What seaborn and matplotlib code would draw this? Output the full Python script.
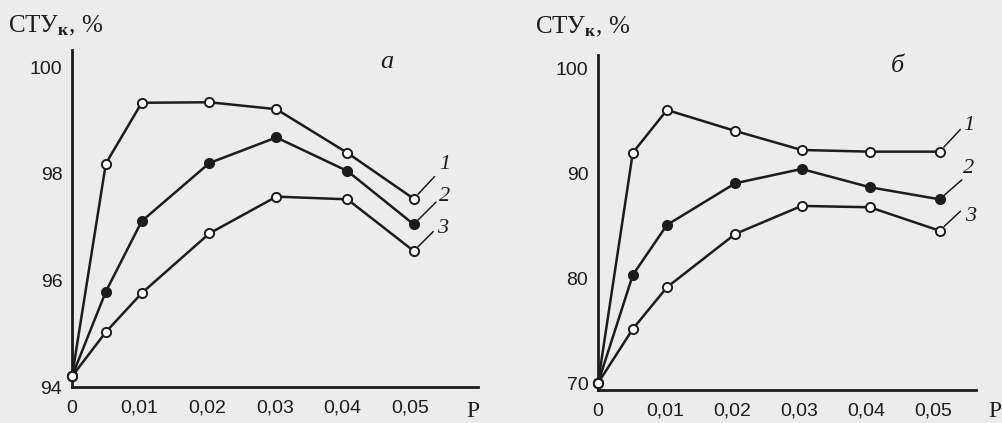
import numpy as np
import matplotlib
matplotlib.use("Agg")
import matplotlib.pyplot as plt
import pandas as pd
import seaborn as sns

# panel a
p_a = [0, 0.005, 0.0103, 0.0203, 0.0302, 0.0407, 0.0505]
sty_a1 = [94.2, 98.19, 99.33, 99.34, 99.21, 98.39, 97.53]
sty_a2 = [94.2, 95.79, 97.11, 98.20, 98.68, 98.05, 97.05]
sty_a3 = [94.2, 95.03, 95.76, 96.88, 97.57, 97.52, 96.55]

# panel b
p_b = [0, 0.0052, 0.0103, 0.0205, 0.0304, 0.0406, 0.051]
sty_b1 = [70.0, 91.96, 96.03, 94.03, 92.22, 92.06, 92.06]
sty_b2 = [70.0, 80.31, 85.08, 89.05, 90.41, 88.67, 87.52]
sty_b3 = [70.0, 75.17, 79.14, 84.22, 86.89, 86.76, 84.53]

xticks = [0, 0.01, 0.02, 0.03, 0.04, 0.05]
xtick_labels = ["0", "0,01", "0,02", "0,03", "0,04", "0,05"]
yticks_a = [94, 96, 98, 100]
yticks_b = [70, 80, 90, 100]
curve_names = ["1", "2", "3"]

ink = "#1c1c1c"
paper = "#ececec"

sns.set_style("white")
plt.rcParams["mathtext.fontset"] = "custom"
plt.rcParams["mathtext.rm"] = "Liberation Serif"
plt.rcParams["mathtext.it"] = "Liberation Serif:italic"
plt.rcParams["mathtext.bf"] = "Liberation Serif:bold"

fig = plt.figure(figsize=(10.03, 4.23), dpi=100, facecolor=paper)
ax_a = fig.add_axes([0.0718, 0.0851, 0.4048, 0.7967])
ax_b = fig.add_axes([0.5962, 0.0780, 0.3773, 0.7920])

tick_font = ["Liberation Sans", "DejaVu Sans"]


def draw_panel(ax, p, curves, yticks, ylim, xmax, label_offsets, letter, letter_xy):
    ax.set_facecolor(paper)
    fills = ["white", ink, "white"]
    for vals, fc in zip(curves, fills):
        sns.lineplot(x=p, y=vals, ax=ax, color=ink, lw=1.8, sort=False,
                     marker="o", markersize=6.6, markerfacecolor=fc,
                     markeredgecolor=ink, markeredgewidth=1.4, clip_on=False,
                     zorder=3)
    for vals, name, (lx, ly, tx, ty) in zip(curves, curve_names, label_offsets):
        ax.annotate("", xy=(p[-1], vals[-1]), xytext=(lx, ly),
                    textcoords="offset points",
                    arrowprops=dict(arrowstyle="-", color=ink, lw=1.1,
                                    shrinkA=0, shrinkB=4.5))
        ax.annotate(name, xy=(p[-1], vals[-1]), xytext=(tx, ty),
                    textcoords="offset points", ha="center", va="center",
                    fontsize=16, fontstyle="italic", family="Liberation Serif",
                    color=ink)
    ax.set_xlim(0, xmax)
    ax.set_ylim(*ylim)
    ax.set_xticks(xticks)
    ax.set_xticklabels(xtick_labels)
    ax.set_yticks(yticks)
    ax.set_yticklabels([str(v) for v in yticks])
    for s in ["top", "right"]:
        ax.spines[s].set_visible(False)
    for s in ["left", "bottom"]:
        ax.spines[s].set_color(ink)
        ax.spines[s].set_linewidth(2.0)
    ax.tick_params(axis="both", direction="in", color=ink, width=1.6,
                   labelsize=14, labelcolor=ink)
    ax.tick_params(axis="y", length=7, pad=7)
    ax.tick_params(axis="x", length=4, pad=9)
    for t in ax.get_xticklabels() + ax.get_yticklabels():
        t.set_family(tick_font)
    ax.set_xlabel("")
    ax.set_ylabel("")
    ax.grid(False)
    fig.text(letter_xy[0], letter_xy[1], letter, fontsize=19,
             fontstyle="italic", family="Liberation Serif", color=ink,
             ha="center", va="center")


draw_panel(ax_a, p_a, [sty_a1, sty_a2, sty_a3], yticks_a, (94, 100.32), 0.060,
           [(15, 16, 22, 25), (16, 16, 22, 20), (14, 14, 21, 16)],
           "а", (387 / 1003, 1 - 62 / 423))
draw_panel(ax_b, p_b, [sty_b1, sty_b2, sty_b3], yticks_b, (69.35, 101.27), 0.0565,
           [(15, 16, 21, 19), (16, 14, 21, 22), (15, 14, 22, 10)],
           "б", (897 / 1003, 1 - 66 / 423))

ylab = r"СТУ$_{\mathbf{к}}$, %"
fig.text(8 / 1003, 1 - 32 / 423, ylab, fontsize=18, family="Liberation Serif",
         color=ink, ha="left", va="baseline")
fig.text(535 / 1003, 1 - 33 / 423, ylab, fontsize=18, family="Liberation Serif",
         color=ink, ha="left", va="baseline")
fig.text(473 / 1003, 1 - 411 / 423, "P", fontsize=17, family="Liberation Serif",
         color=ink, ha="center", va="center")
fig.text(995 / 1003, 1 - 411 / 423, "P", fontsize=17, family="Liberation Serif",
         color=ink, ha="center", va="center")

fig.savefig("out.png", dpi=100, facecolor=paper)
